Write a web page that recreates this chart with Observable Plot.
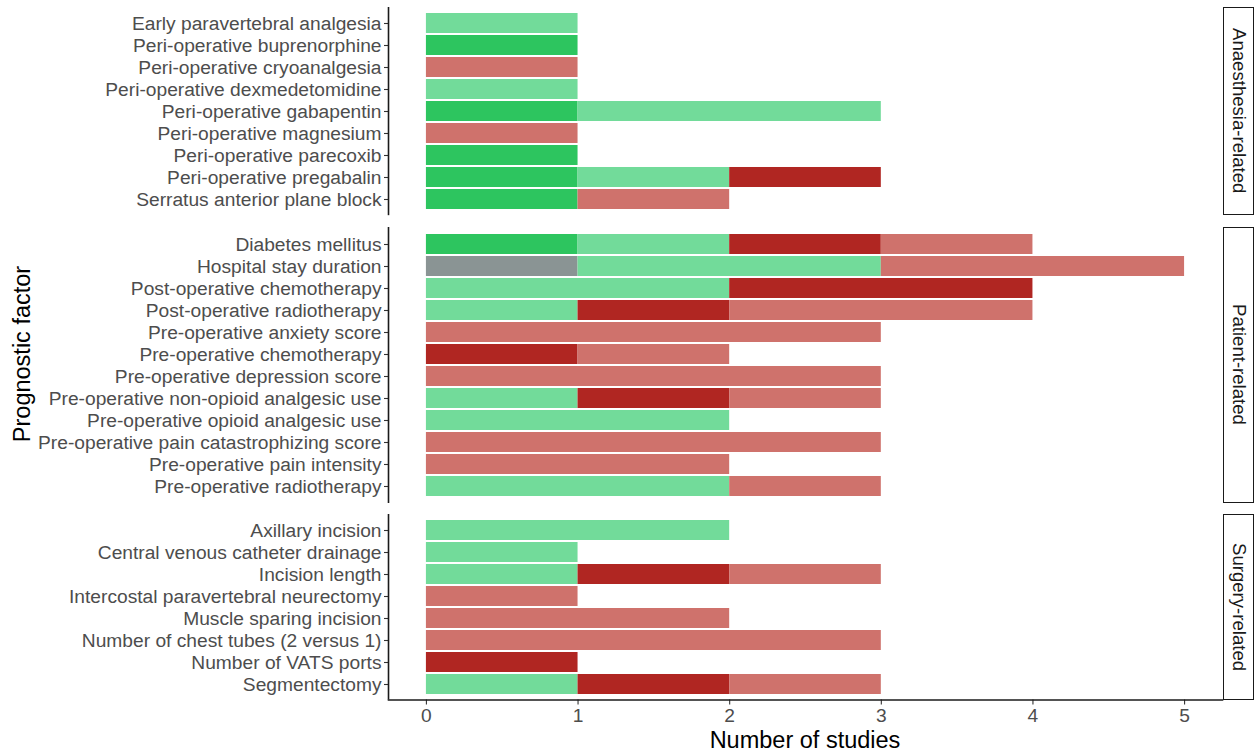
<!DOCTYPE html>
<html>
<head>
<meta charset="utf-8">
<script src="https://cdn.jsdelivr.net/npm/d3@7"></script>
<script src="https://cdn.jsdelivr.net/npm/@observablehq/plot@0.6"></script>
<style>
  body { margin: 0; background: #fff; font-family: "Liberation Sans", Arial, sans-serif; }
  #chart { position: relative; width: 1257px; height: 755px; overflow: hidden; }
  .panel { position: absolute; left: 0; }
  .strip {
    position: absolute; left: 1223px; width: 31px; box-sizing: border-box;
    border: 1.4px solid #1a1a1a; background: #fff;
    display: flex; align-items: center; justify-content: center;
  }
  .strip span { writing-mode: vertical-rl; font-size: 18.6px; color: #1a1a1a; white-space: nowrap; }
  .ytitle {
    position: absolute; left: 22px; top: 354px; font-size: 23.5px; color: #000;
    transform: translate(-50%, -50%) rotate(-90deg); white-space: nowrap;
  }
  .xtitle {
    position: absolute; left: 805px; top: 740px; font-size: 23.5px; color: #000;
    transform: translate(-50%, -50%); white-space: nowrap;
  }
</style>
</head>
<body>
<div id="chart"></div>
<script>
// Facet groups, in drawing order
const groups = ["Anaesthesia-related", "Patient-related", "Surgery-related"];

// Prognostic factors and the group each belongs to
const factors = [
  "Early paravertebral analgesia",
  "Peri-operative buprenorphine",
  "Peri-operative cryoanalgesia",
  "Peri-operative dexmedetomidine",
  "Peri-operative gabapentin",
  "Peri-operative magnesium",
  "Peri-operative parecoxib",
  "Peri-operative pregabalin",
  "Serratus anterior plane block",
  "Diabetes mellitus",
  "Hospital stay duration",
  "Post-operative chemotherapy",
  "Post-operative radiotherapy",
  "Pre-operative anxiety score",
  "Pre-operative chemotherapy",
  "Pre-operative depression score",
  "Pre-operative non-opioid analgesic use",
  "Pre-operative opioid analgesic use",
  "Pre-operative pain catastrophizing score",
  "Pre-operative pain intensity",
  "Pre-operative radiotherapy",
  "Axillary incision",
  "Central venous catheter drainage",
  "Incision length",
  "Intercostal paravertebral neurectomy",
  "Muscle sparing incision",
  "Number of chest tubes (2 versus 1)",
  "Number of VATS ports",
  "Segmentectomy"
];
const factorGroup = [
  "Anaesthesia-related", "Anaesthesia-related", "Anaesthesia-related", "Anaesthesia-related",
  "Anaesthesia-related", "Anaesthesia-related", "Anaesthesia-related", "Anaesthesia-related",
  "Anaesthesia-related",
  "Patient-related", "Patient-related", "Patient-related", "Patient-related",
  "Patient-related", "Patient-related", "Patient-related", "Patient-related",
  "Patient-related", "Patient-related", "Patient-related", "Patient-related",
  "Surgery-related", "Surgery-related", "Surgery-related", "Surgery-related",
  "Surgery-related", "Surgery-related", "Surgery-related", "Surgery-related"
];

// Number of studies per factor, one array per evidence category
const protectiveSignificant    = [0,1,0,0,1,0,1,1,1, 1,0,0,0,0,0,0,0,0,0,0,0, 0,0,0,0,0,0,0,0];
const notEstimable             = [0,0,0,0,0,0,0,0,0, 0,1,0,0,0,0,0,0,0,0,0,0, 0,0,0,0,0,0,0,0];
const protectiveNonSignificant = [1,0,0,1,2,0,0,1,0, 1,2,2,1,0,0,0,1,2,0,0,2, 2,1,1,0,0,0,0,1];
const riskSignificant          = [0,0,0,0,0,0,0,1,0, 1,0,2,1,0,1,0,1,0,0,0,0, 0,0,1,0,0,0,1,1];
const riskNonSignificant       = [0,0,1,0,0,1,0,0,1, 1,2,0,2,3,1,3,1,0,3,2,1, 0,0,1,1,2,3,0,1];

const seriesNames = [
  "Protective, significant",
  "Not estimable",
  "Protective, non-significant",
  "Risk, significant",
  "Risk, non-significant"
];
const seriesColors = ["#2dc55f", "#8a9494", "#72db9a", "#b02622", "#cf726c"];
const seriesValues = [protectiveSignificant, notEstimable, protectiveNonSignificant, riskSignificant, riskNonSignificant];

const xDomain = [-0.25, 5.25];
const xTicks = [0, 1, 2, 3, 4, 5];

// Long table: one row per factor and category with a non-zero count
const rows = [];
factors.forEach((f, i) => {
  seriesValues.forEach((vals, s) => {
    if (vals[i] > 0) rows.push({factor: f, group: factorGroup[i], series: seriesNames[s], n: vals[i]});
  });
});

const chart = document.getElementById("chart");
const rowStep = 22.63;     // pixels per factor row
const panelGap = 11.7;     // space between facet panels
let panelTop = 6.7;

groups.forEach((g, gi) => {
  const domain = factors.filter((f, i) => factorGroup[i] === g);
  const isLast = gi === groups.length - 1;
  // each panel is n rows tall plus 0.6 of a row of padding on each end
  const inner = (domain.length + 0.2) * rowStep;
  const marginBottom = isLast ? 32 : 0;

  const plot = Plot.plot({
    width: 1222,
    height: inner + marginBottom,
    marginLeft: 388,
    marginRight: 0,
    marginTop: 0,
    marginBottom,
    style: {fontFamily: "'Liberation Sans', Arial, sans-serif", background: "transparent", overflow: "visible"},
    x: {domain: xDomain, axis: null},
    y: {domain, paddingInner: 0.11, paddingOuter: 0.155, axis: null},
    color: {domain: seriesNames, range: seriesColors},
    marks: [
      Plot.barX(rows.filter(d => d.group === g), {
        x: "n", y: "factor", fill: "series", order: seriesNames
      }),
      Plot.axisY({tickSize: 4, tickPadding: 3, fontSize: 19.2, fill: "#4d4d4d", stroke: "#333", strokeWidth: 1.1, label: null}),
      Plot.ruleX([xDomain[0]], {stroke: "#1a1a1a", strokeWidth: 1.6}),
      isLast ? Plot.axisX({ticks: xTicks, tickFormat: d => String(d), tickSize: 5, tickPadding: 3, fontSize: 19.2, fill: "#4d4d4d", stroke: "#333", strokeWidth: 1.1, label: null}) : null,
      isLast ? Plot.frame({anchor: "bottom", stroke: "#1a1a1a", strokeWidth: 1.6}) : null
    ]
  });
  plot.classList.add("panel");
  plot.style.top = panelTop + "px";
  chart.appendChild(plot);

  const strip = document.createElement("div");
  strip.className = "strip";
  strip.style.top = panelTop + "px";
  strip.style.height = inner + "px";
  const label = document.createElement("span");
  label.textContent = g;
  strip.appendChild(label);
  chart.appendChild(strip);

  panelTop += inner + panelGap;
});

const yTitle = document.createElement("div");
yTitle.className = "ytitle";
yTitle.textContent = "Prognostic factor";
chart.appendChild(yTitle);

const xTitle = document.createElement("div");
xTitle.className = "xtitle";
xTitle.textContent = "Number of studies";
chart.appendChild(xTitle);
</script>
</body>
</html>
